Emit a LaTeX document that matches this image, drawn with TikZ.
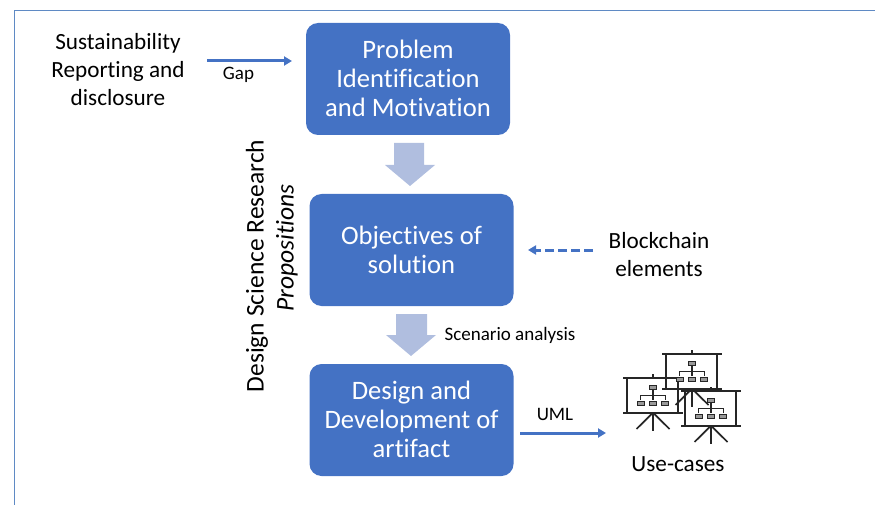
\documentclass[tikz,border=0pt]{standalone}
\usepackage{fontspec}
\setmainfont{Carlito}[Ligatures={NoCommon}]
\usetikzlibrary{arrows.meta,calc}
\definecolor{boxblue}{HTML}{4472C4}
\definecolor{paleblue}{HTML}{B0BEDF}
\definecolor{framec}{HTML}{5F8AC4}
\tikzset{
  x=1pt,y=-1pt,
  stagebox/.style={fill=boxblue,rounded corners=12pt,minimum width=204pt,minimum height=112pt,inner sep=0pt},
  stagetext/.style={inner sep=0pt,text=white,align=center,font=\fontsize{26.6}{29}\selectfont},
  bigarrow/.style={fill=paleblue},
  link/.style={draw=boxblue,line width=3pt,-{Triangle[length=8pt,width=9pt]}},
  plain/.style={align=center,inner sep=0pt,font=\fontsize{23.2}{28}\selectfont},
  small/.style={inner sep=0pt,font=\fontsize{19}{22}\selectfont},
  iconline/.style={draw=black!85,line width=1.7pt},
  iconthin/.style={draw=black!85,line width=1.1pt},
  pics/screen/.style={code={
    \draw[iconline] (-30,0) -- (30,0);
    \draw[iconline] (-30,34.7) -- (30,34.7);
    \draw[iconline] (-26,0) -- (-26,34.7);
    \draw[iconline] (25,0) -- (25,34.7);
    \draw[iconline] (0,-4) -- (0,0);
    \draw[iconline] (0,34.7) -- (-16.5,51);
    \draw[iconline] (0,34.7) -- (16.5,51);
    \draw[iconline] (0,34.7) -- (0,53);
    \draw[iconthin] (0,12) -- (0,17.3) (-12.3,22) -- (-12.3,17.3) -- (12.3,17.3) -- (12.3,22) (0,17.3) -- (0,22);
    \foreach \px/\py in {0/9.5,-12.3/25.7,0/25.7,12.3/25.7}
      \draw[iconthin,fill=black!40] (\px-3.5,\py-2) rectangle (\px+3.5,\py+2);
  }},
}
\begin{document}
\begin{tikzpicture}
\useasboundingbox (0,0) rectangle (875,505);
\draw[framec,line width=0.8pt] (14,505) -- (14,10.5) -- (875,10.5);

\node[stagebox] (b1) at (408,79) {};
\node[stagebox] (b2) at (411.5,250) {};
\node[stagebox] (b3) at (411.5,420) {};
\node[stagetext] (t1) at (408,78) {Problem\\Identification\\and Motivation};
\node[stagetext] (t2) at (411.5,250) {Objectives of\\solution};
\node[stagetext] (t3) at (411.5,419) {Design and\\Development of\\artifact};

\fill[bigarrow] (394,143) -- (424,143) -- (424,165) -- (435,165) -- (410,186) -- (385,165) -- (394,165) -- cycle;
\fill[bigarrow] (396,314) -- (427,314) -- (427,335) -- (436,335) -- (411,356) -- (386,335) -- (396,335) -- cycle;

\node[plain] (sr) at (118,69.5) {Sustainability\\Reporting and\\disclosure};
\node[small] (gap) at (238.5,75) {Gap};
\coordinate (gs) at (207,61);
\coordinate (ge) at (292,61);
\draw[link] (gs) -- (ge);

\node[plain] (bc) at (659,255) {Blockchain\\elements};
\coordinate (ds) at (593,250);
\coordinate (de) at (528,250);
\draw[link,dash pattern=on 9pt off 4pt] (ds) -- (de);

\node[small] (sa) at (510,335) {Scenario analysis};
\node[small] (uml) at (555,414) {UML};
\coordinate (us) at (520,433);
\coordinate (ue) at (606,433);
\draw[link] (us) -- (ue);

\node[plain,rotate=90,font=\fontsize{25.5}{28}\selectfont] (dsr) at (257,266) {Design Science Research};
\node[plain,rotate=90,font=\fontsize{25.5}{28}\selectfont\itshape] (prop) at (287,248) {Propositions};

\pic at (653,378) {screen};
\pic at (692,354) {screen};
\pic at (711,391) {screen};
\node[plain] (uc) at (678,464) {Use-cases};
\end{tikzpicture}
\end{document}
